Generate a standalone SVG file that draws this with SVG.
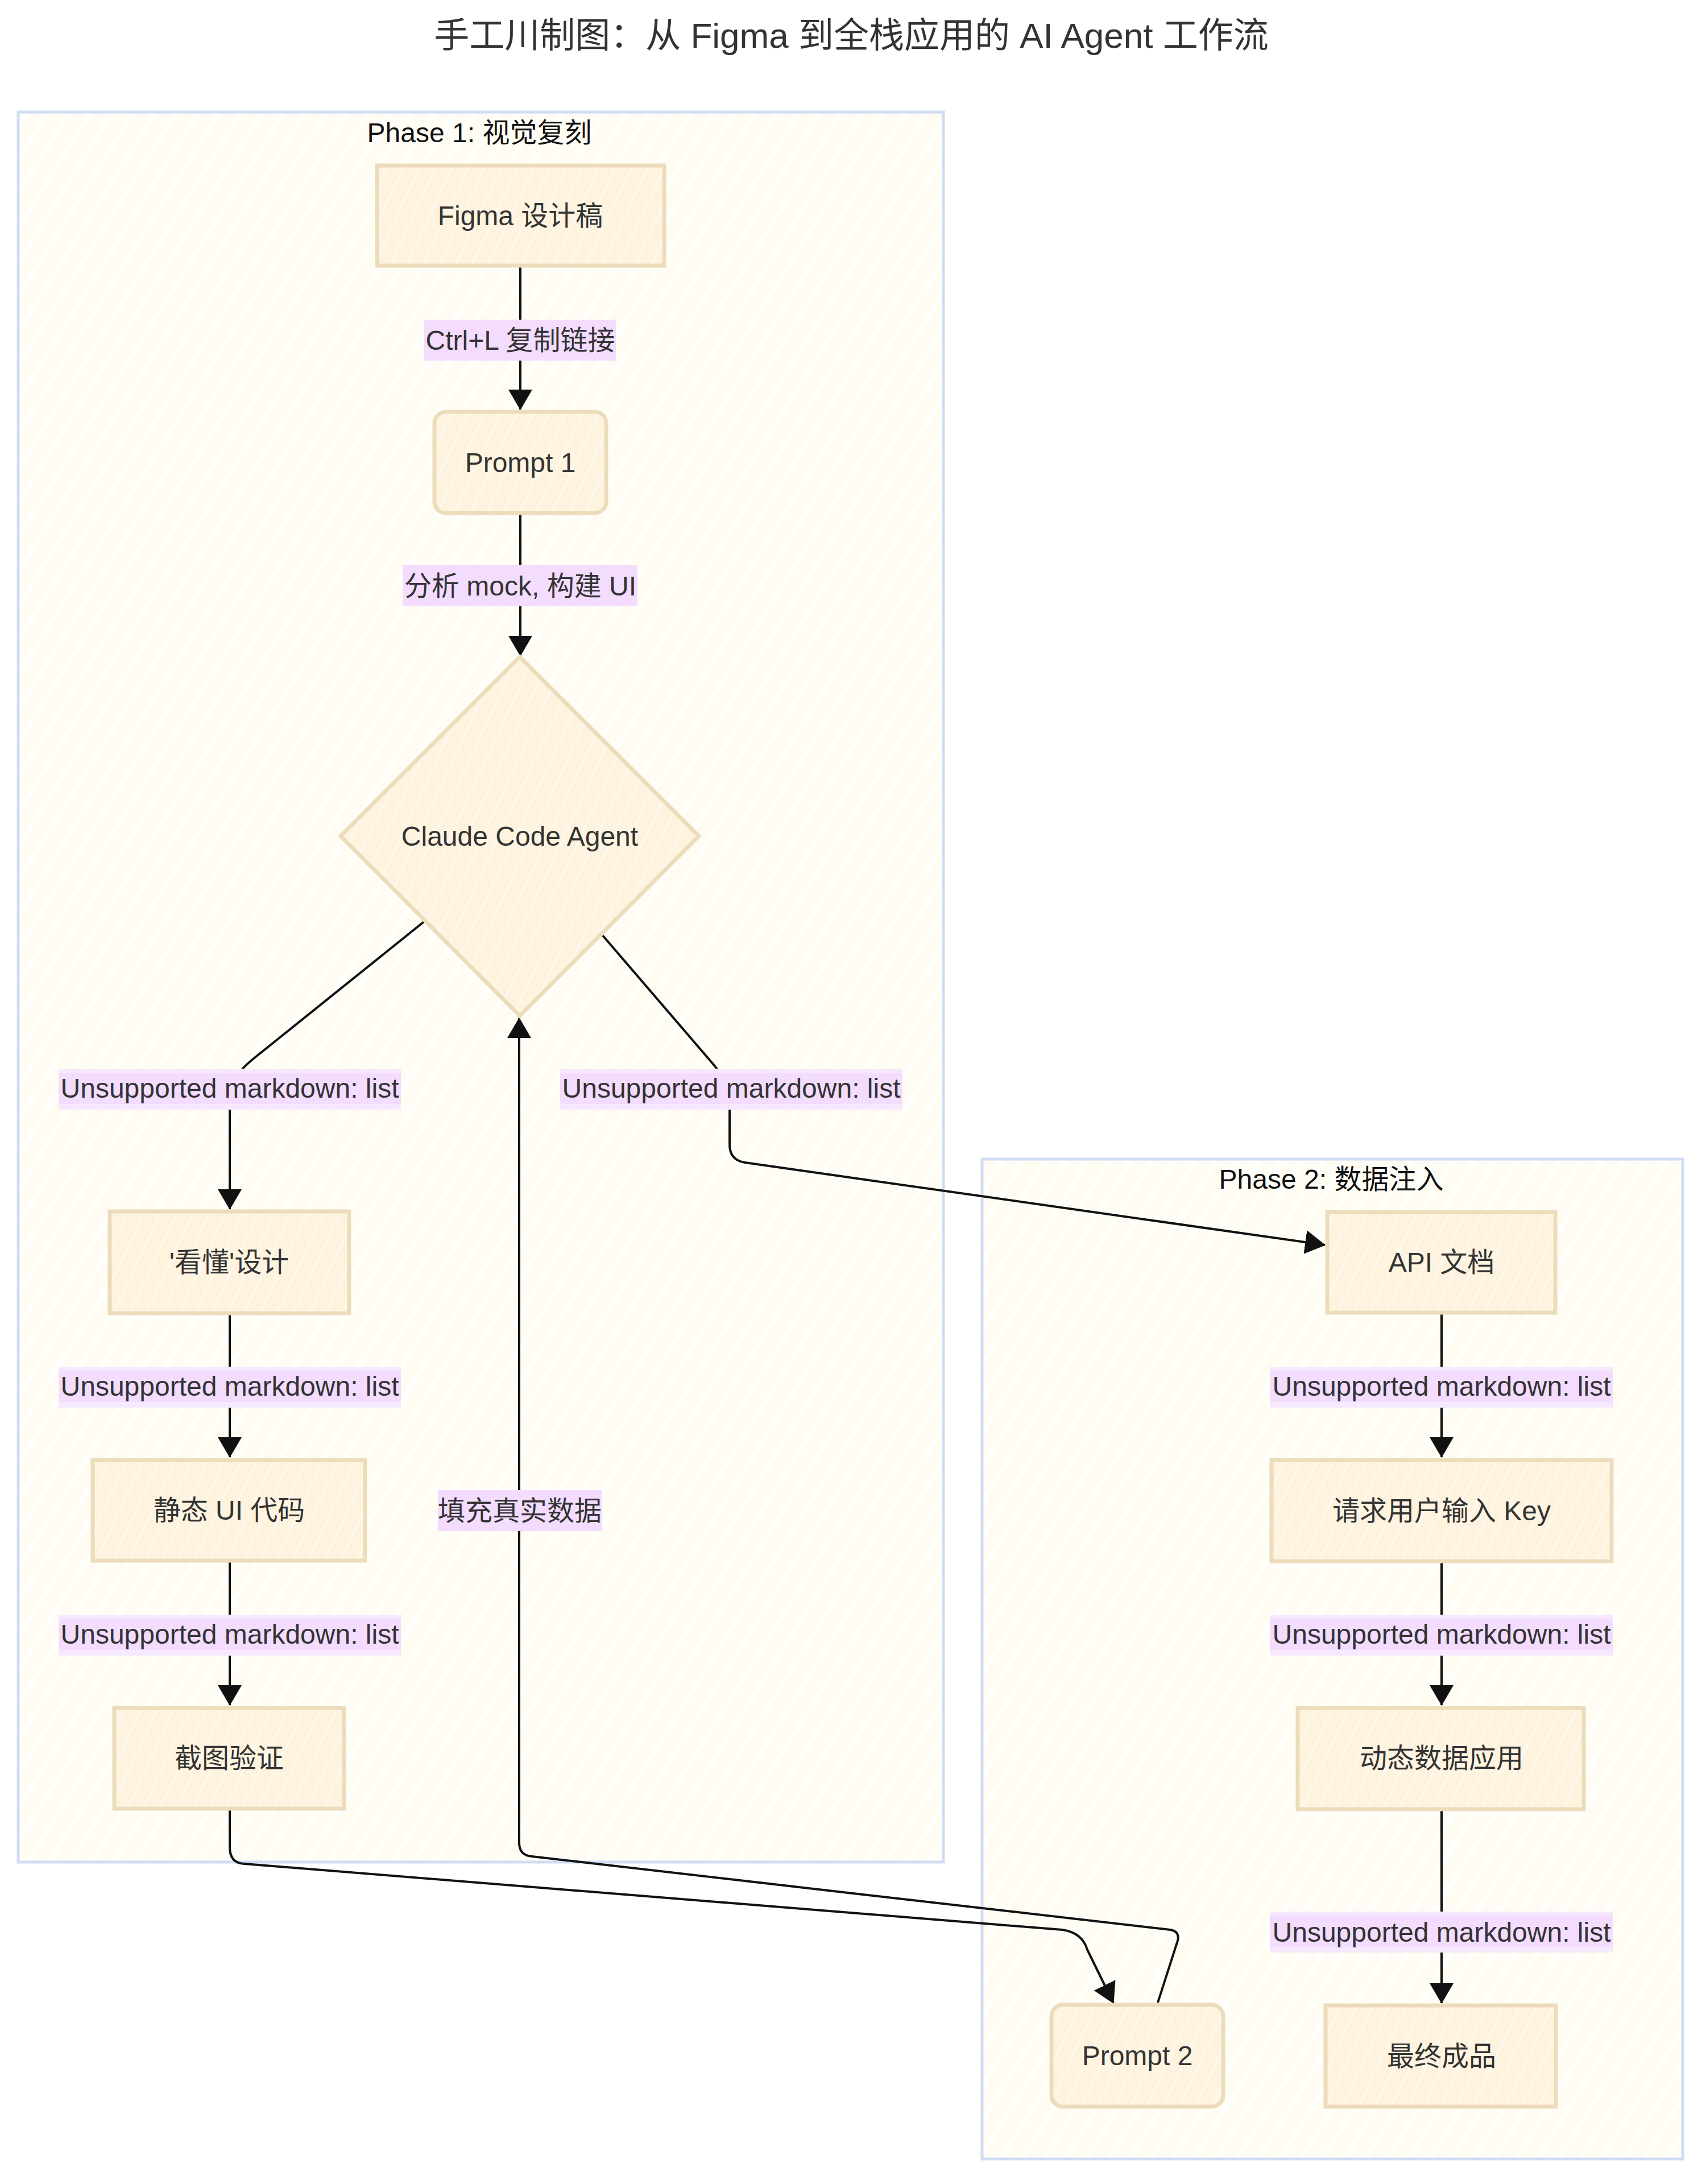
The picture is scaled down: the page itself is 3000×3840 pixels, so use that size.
<svg xmlns="http://www.w3.org/2000/svg" width="3000" height="3840" viewBox="0 0 3000 3840">
<defs>
<pattern id="hNode" patternUnits="userSpaceOnUse" width="26" height="26" patternTransform="rotate(25)">
<rect width="26" height="26" fill="#fdf3de"/>
<line x1="13" y1="0" x2="13" y2="26" stroke="#fffaf0" stroke-width="3"/>
</pattern>
<pattern id="hClu" patternUnits="userSpaceOnUse" width="32" height="32" patternTransform="rotate(32)">
<rect width="32" height="32" fill="#fffdf3"/>
<line x1="16" y1="0" x2="16" y2="32" stroke="#fffffb" stroke-width="9"/>
</pattern>
<marker id="arr" viewBox="0 0 36 42" refX="35" refY="21" markerWidth="36" markerHeight="42" markerUnits="userSpaceOnUse" orient="auto">
<path d="M0,0 L36,21 L0,42 z" fill="#111"/>
</marker>
</defs>
<style>
.clu{fill:url(#hClu);stroke:#cfdcf3;stroke-width:5}
.nd{fill:url(#hNode);stroke:#ecdcbb;stroke-width:7}
.t{font-family:"Liberation Sans","Noto Sans CJK SC",sans-serif;font-size:48px;fill:#333;text-anchor:middle;dominant-baseline:central}
.ct{font-family:"Liberation Sans","Noto Sans CJK SC",sans-serif;font-size:48px;fill:#111;text-anchor:middle;dominant-baseline:central}
.title{font-family:"Liberation Sans","Noto Sans CJK SC",sans-serif;font-size:62px;fill:#333;text-anchor:middle;dominant-baseline:central}
.e{fill:none;stroke:#111;stroke-width:4;stroke-linejoin:round}
.lo{fill:#f7e9fd}
.li{fill:#f3dcfd}
</style>
<rect width="3000" height="3840" fill="#ffffff"/>
<text class="title" x="1497" y="62">手工川制图：从 Figma 到全栈应用的 AI Agent 工作流</text>

<g id="phase1">
<rect class="clu" x="32" y="197" width="1627" height="3077"/>
<text class="ct" x="843" y="233">Phase 1: 视觉复刻</text>
</g>
<g id="phase2">
<rect class="clu" x="1727" y="2038" width="1232" height="1758"/>
<text class="ct" x="2341" y="2073">Phase 2: 数据注入</text>
</g>

<g id="connectors">
<path class="e" d="M915,468 L915,720" marker-end="url(#arr)"/>
<path class="e" d="M915,903 L915,1153" marker-end="url(#arr)"/>
<path class="e" d="M745,1621 L445,1862 Q404,1895 404,1930 L404,2126" marker-end="url(#arr)"/>
<path class="e" d="M1060,1645 L1255,1872 Q1283,1905 1283,1935 L1283,2012 Q1283,2040 1310,2044 L2330,2189" marker-end="url(#arr)"/>
<path class="e" d="M404,2310 L404,2562" marker-end="url(#arr)"/>
<path class="e" d="M404,2745 L404,2998" marker-end="url(#arr)"/>
<path class="e" d="M404,3180 L404,3248 Q404,3276 430,3277 L1868,3393 Q1903,3398 1912,3428 L1958,3522" marker-end="url(#arr)"/>
<path class="e" d="M2036,3521 L2071,3412 Q2075,3396 2058,3393 L935,3264 Q913,3262 913,3240 L913,1790" marker-end="url(#arr)"/>
<path class="e" d="M2535,2308 L2535,2562" marker-end="url(#arr)"/>
<path class="e" d="M2535,2745 L2535,2998" marker-end="url(#arr)"/>
<path class="e" d="M2535,3181 L2535,3522" marker-end="url(#arr)"/>

<g id="lbl1"><rect class="li" x="746" y="562" width="337" height="72"/><text class="t" x="915" y="598">Ctrl+L 复制链接</text></g>
<g id="lbl2"><rect class="li" x="708" y="993" width="413" height="73"/><text class="t" x="915" y="1030">分析 mock, 构建 UI</text></g>
<g id="lbl3"><rect class="lo" x="103" y="1879" width="602" height="72"/><rect class="li" x="103" y="1886" width="602" height="55"/><text class="t" x="404" y="1913">Unsupported markdown: list</text></g>
<g id="lbl4"><rect class="lo" x="985" y="1879" width="602" height="72"/><rect class="li" x="985" y="1886" width="602" height="55"/><text class="t" x="1286" y="1913">Unsupported markdown: list</text></g>
<g id="lbl5"><rect class="lo" x="103" y="2403" width="602" height="72"/><rect class="li" x="103" y="2410" width="602" height="55"/><text class="t" x="404" y="2437">Unsupported markdown: list</text></g>
<g id="lbl6"><rect class="lo" x="103" y="2839" width="602" height="72"/><rect class="li" x="103" y="2846" width="602" height="55"/><text class="t" x="404" y="2873">Unsupported markdown: list</text></g>
<g id="lbl7"><rect class="li" x="770" y="2620" width="289" height="72"/><text class="t" x="914" y="2656">填充真实数据</text></g>
<g id="lbl8"><rect class="lo" x="2233" y="2403" width="603" height="72"/><rect class="li" x="2233" y="2410" width="603" height="55"/><text class="t" x="2535" y="2437">Unsupported markdown: list</text></g>
<g id="lbl9"><rect class="lo" x="2233" y="2839" width="603" height="72"/><rect class="li" x="2233" y="2846" width="603" height="55"/><text class="t" x="2535" y="2873">Unsupported markdown: list</text></g>
<g id="lbl10"><rect class="lo" x="2233" y="3361" width="603" height="72"/><rect class="li" x="2233" y="3368" width="603" height="55"/><text class="t" x="2535" y="3397">Unsupported markdown: list</text></g>
</g>

<g id="figma"><rect class="nd" x="663" y="291" width="505" height="176"/><text class="t" x="915" y="379">Figma 设计稿</text></g>
<g id="prompt1"><rect class="nd" x="764" y="724" width="302" height="178" rx="20"/><text class="t" x="915" y="813">Prompt 1</text></g>
<g id="agent"><polygon class="nd" points="914,1155 1229,1470 914,1786 599,1470"/><text class="t" x="914" y="1470">Claude Code Agent</text></g>
<g id="understand"><rect class="nd" x="193" y="2130" width="421" height="179"/><text class="t" x="403" y="2219">'看懂'设计</text></g>
<g id="staticui"><rect class="nd" x="163" y="2567" width="479" height="177"/><text class="t" x="403" y="2655">静态 UI 代码</text></g>
<g id="screenshot"><rect class="nd" x="201" y="3003" width="404" height="177"/><text class="t" x="403" y="3091">截图验证</text></g>
<g id="apidoc"><rect class="nd" x="2334" y="2131" width="401" height="177"/><text class="t" x="2535" y="2219">API 文档</text></g>
<g id="askkey"><rect class="nd" x="2236" y="2567" width="598" height="178"/><text class="t" x="2535" y="2656">请求用户输入 Key</text></g>
<g id="dynamic"><rect class="nd" x="2282" y="3003" width="503" height="178"/><text class="t" x="2535" y="3091">动态数据应用</text></g>
<g id="prompt2"><rect class="nd" x="1849" y="3525" width="302" height="179" rx="20"/><text class="t" x="2000" y="3614">Prompt 2</text></g>
<g id="final"><rect class="nd" x="2331" y="3526" width="405" height="178"/><text class="t" x="2535" y="3615">最终成品</text></g>
</svg>
